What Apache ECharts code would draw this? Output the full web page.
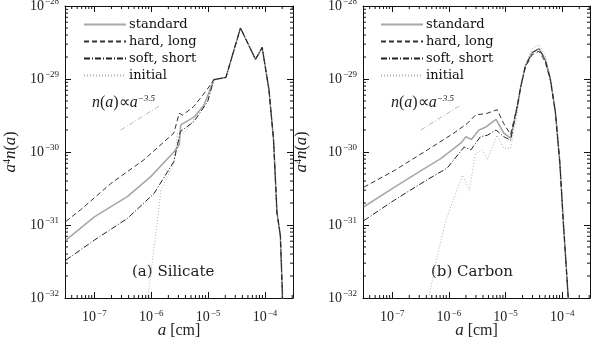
<!DOCTYPE html>
<html>
<head>
<meta charset="utf-8">
<script src="https://cdn.jsdelivr.net/npm/echarts@6/dist/echarts.min.js"></script>
<style>
  html, body { margin: 0; padding: 0; background: #fff; }
  #chart { width: 592px; height: 340px; }
</style>
</head>
<body>
<div id="chart"></div>
<script>
// grain size a [cm] vs a^4 n(a)
const seriesNames = ['standard', 'hard, long', 'soft, short', 'initial'];
const panelLabels = ['(a) Silicate', '(b) Carbon'];

// silicate, small-grain part of each curve
const siStd = [[3.16e-8, 6.2e-32], [1.0e-7, 1.29e-31], [3.8e-7, 2.45e-31], [9.8e-7, 4.6e-31],
  [2.5e-6, 1.0e-30], [3.1e-6, 1.26e-30], [3.3e-6, 2.35e-30], [5.6e-6, 3.0e-30], [8.5e-6, 4.4e-30]];
const siHard = [[3.16e-8, 1.12e-31], [5.75e-8, 1.62e-31], [1.95e-7, 3.7e-31], [7.4e-7, 7.8e-31],
  [2.5e-6, 1.82e-30], [3.1e-6, 3.4e-30], [3.55e-6, 3.2e-30], [5.6e-6, 4.2e-30], [9.5e-6, 7.1e-30]];
const siSoft = [[3.16e-8, 3.3e-32], [1.0e-7, 6.2e-32], [3.8e-7, 1.23e-31], [1.12e-6, 2.7e-31],
  [2.5e-6, 7.4e-31], [3.24e-6, 1.9e-30], [5.6e-6, 2.6e-30], [9.8e-6, 4.9e-30]];
const siInit = [[8.5e-7, 9e-33], [1.05e-6, 3.3e-32], [1.29e-6, 1.17e-31], [1.48e-6, 3.0e-31],
  [2.5e-6, 7.1e-31], [2.9e-6, 1.82e-30], [3.8e-6, 1.82e-30], [7.4e-6, 3.8e-30], [1.1e-5, 6.8e-30]];
// silicate, common large-grain part
const siTail = [[1.26e-5, 9.8e-30], [2.05e-5, 1.05e-29], [3.7e-5, 5.0e-29], [6.8e-5, 1.86e-29],
  [8.9e-5, 2.7e-29], [1.17e-4, 7.2e-30], [1.41e-4, 1.48e-30], [1.62e-4, 1.48e-31],
  [1.86e-4, 7.1e-32], [2.04e-4, 9e-33]];

// carbon
const cbStd = [[3.16e-8, 1.78e-31], [1.1e-7, 3.3e-31], [4.2e-7, 6.3e-31], [7.2e-7, 8.1e-31],
  [1.62e-6, 1.32e-30], [2.0e-6, 1.62e-30], [2.5e-6, 1.48e-30], [3.4e-6, 2.0e-30],
  [4.5e-6, 2.2e-30], [6.8e-6, 2.8e-30], [9.3e-6, 1.82e-30], [1.23e-5, 1.55e-30]];
const cbHard = [[3.16e-8, 3.3e-31], [1.1e-7, 5.6e-31], [4.2e-7, 1.07e-30], [1.23e-6, 1.82e-30],
  [2.1e-6, 2.45e-30], [2.95e-6, 3.2e-30], [4.8e-6, 3.4e-30], [7.1e-6, 3.8e-30],
  [9.3e-6, 2.45e-30], [1.23e-5, 1.74e-30]];
const cbSoft = [[3.16e-8, 1.15e-31], [1.1e-7, 2.2e-31], [4.2e-7, 4.2e-31], [9.3e-7, 6.0e-31],
  [1.86e-6, 1.17e-30], [2.45e-6, 1.07e-30], [3.6e-6, 1.62e-30], [4.8e-6, 1.7e-30],
  [6.8e-6, 2.0e-30], [9.3e-6, 1.62e-30], [1.23e-5, 1.45e-30]];
const cbInit = [[4.3e-7, 9e-33], [6.0e-7, 3.3e-32], [8.9e-7, 1.17e-31], [1.17e-6, 2.1e-31],
  [1.74e-6, 4.8e-31], [2.3e-6, 3.0e-31], [2.95e-6, 9.5e-31], [3.9e-6, 1.07e-30],
  [4.8e-6, 7.8e-31], [7.1e-6, 1.7e-30], [9.3e-6, 1.12e-30], [1.23e-5, 1.12e-30]];
const cbTail = [[1.62e-5, 4.3e-30], [1.86e-5, 7.9e-30], [2.24e-5, 1.51e-29], [2.95e-5, 2.3e-29],
  [3.9e-5, 2.6e-29], [5.0e-5, 1.86e-29], [6.2e-5, 1.0e-29], [7.6e-5, 3.5e-30], [9.1e-5, 7.1e-31],
  [1.05e-4, 1.07e-31], [1.2e-4, 2.2e-32], [1.29e-4, 9e-33]];
const cbTailHard = [[1.62e-5, 4.3e-30], [1.86e-5, 7.9e-30], [2.24e-5, 1.45e-29], [2.95e-5, 2.15e-29],
  [3.9e-5, 2.4e-29], [5.0e-5, 1.74e-29], [6.2e-5, 9.5e-30], [7.6e-5, 3.5e-30], [9.1e-5, 7.1e-31],
  [1.05e-4, 1.07e-31], [1.2e-4, 2.2e-32], [1.29e-4, 9e-33]];
const cbTailInit = [[1.62e-5, 3.4e-30], [1.86e-5, 7.6e-30], [2.24e-5, 1.58e-29], [2.95e-5, 2.6e-29],
  [3.9e-5, 2.95e-29], [5.0e-5, 2.1e-29], [6.2e-5, 1.05e-29], [7.6e-5, 3.6e-30], [9.1e-5, 7.1e-31],
  [1.05e-4, 1.07e-31], [1.2e-4, 2.2e-32], [1.29e-4, 9e-33]];

// n(a) ∝ a^-3.5 guide segments
const guideSi = [[2.92e-7, 2.0e-30], [1.47e-6, 4.4e-30]];
const guideCb = [[3.2e-7, 2.0e-30], [1.62e-6, 4.4e-30]];

// the y values are tiny, so the axis works in units of 1e-32 to keep the log scale from rounding to 0
const yUnitExp = -32;
const yUnit = 1e32;
function toUnits(arr) {
  return arr.map(function (p) { return [p[0], p[1] * yUnit]; });
}

const xMin = 3.05e-8, xMax = 3.1e-4;
const yMin = 1, yMax = 1e4;

const myChart = echarts.init(document.getElementById('chart'));

const styles = [
  { color: '#a8a8a8', width: 1.6, type: 'solid' },
  { color: '#333', width: 1, type: [5, 3] },
  { color: '#222', width: 1, type: [6, 2, 1, 2] },
  { color: '#b0b0b0', width: 1, type: [1, 2] }
];

function powLabel(v, shift) {
  const e = Math.log10(v);
  if (!isFinite(e) || Math.abs(e - Math.round(e)) > 0.01) return '';
  return '{b|10}{s|' + String(Math.round(e) + shift).replace('-', '−') + '}';
}

const labelRich = {
  b: { fontFamily: 'Liberation Serif', fontSize: 14, color: '#222' },
  s: { fontFamily: 'Liberation Serif', fontSize: 9, color: '#222', verticalAlign: 'top', padding: [0, 0, 8, 1] }
};

function xAxisFor(grid, bottom, name) {
  return {
    type: 'log', gridIndex: grid, position: bottom ? 'bottom' : 'top',
    min: xMin, max: xMax,
    axisLine: { show: true, onZero: false, lineStyle: { color: '#111', width: 1 } },
    axisTick: { show: true, inside: true, length: 6, lineStyle: { color: '#111' } },
    splitLine: { show: false },
    axisLabel: bottom ? { show: true, margin: 11, formatter: function (v) { return powLabel(v, 0); }, rich: labelRich } : { show: false },
    name: bottom ? name : '', nameLocation: 'middle', nameGap: 24, nameMoveOverlap: false,
    nameTextStyle: {
      fontFamily: 'Liberation Serif', fontSize: 16, color: '#222',
      rich: { i: { fontFamily: 'Liberation Serif', fontStyle: 'italic', fontSize: 17, color: '#222' } }
    }
  };
}

function yAxisFor(grid, left, name, gap) {
  return {
    type: 'log', gridIndex: grid, position: left ? 'left' : 'right',
    min: yMin, max: yMax,
    axisLine: { show: true, onZero: false, lineStyle: { color: '#111', width: 1 } },
    axisTick: { show: true, inside: true, length: 6, lineStyle: { color: '#111' } },
    splitLine: { show: false },
    axisLabel: left ? { show: true, margin: 6, formatter: function (v) { return powLabel(v, yUnitExp); }, rich: labelRich } : { show: false },
    name: left ? name : '', nameLocation: 'middle', nameGap: gap, nameRotate: 90,
    nameTextStyle: {
      fontFamily: 'Liberation Serif', fontSize: 16, color: '#222',
      rich: {
        i: { fontFamily: 'Liberation Serif', fontStyle: 'italic', fontSize: 17, color: '#222' },
        s: { fontFamily: 'Liberation Serif', fontSize: 10, color: '#222', verticalAlign: 'top', padding: [0, 0, 8, 0] }
      }
    }
  };
}

// minor log ticks on all four sides of a panel
const minorX = [], minorY = [];
for (let e = -8; e <= -4; e++) {
  for (let k = 2; k <= 9; k++) {
    const v = k * Math.pow(10, e);
    if (v > xMin && v < xMax) minorX.push(v);
  }
}
for (let e = 0; e <= 3; e++) {
  for (let k = 2; k <= 9; k++) minorY.push(k * Math.pow(10, e));
}

function minorTickSeries(grid) {
  return {
    type: 'custom', xAxisIndex: grid * 2, yAxisIndex: grid * 2, silent: true,
    clip: false, data: [[xMin, yMin]],
    renderItem: function (params, api) {
      const children = [];
      const st = { stroke: '#111', lineWidth: 1 };
      minorX.forEach(function (v) {
        const b = api.coord([v, yMin]), t = api.coord([v, yMax]);
        children.push({ type: 'line', shape: { x1: b[0], y1: b[1], x2: b[0], y2: b[1] - 3 }, style: st });
        children.push({ type: 'line', shape: { x1: t[0], y1: t[1], x2: t[0], y2: t[1] + 3 }, style: st });
      });
      minorY.forEach(function (v) {
        const l = api.coord([xMin, v]), r = api.coord([xMax, v]);
        children.push({ type: 'line', shape: { x1: l[0], y1: l[1], x2: l[0] + 3, y2: l[1] }, style: st });
        children.push({ type: 'line', shape: { x1: r[0], y1: r[1], x2: r[0] - 3, y2: r[1] }, style: st });
      });
      return { type: 'group', children: children };
    }
  };
}

function lineSeries(grid, idx, data) {
  return {
    type: 'line', name: seriesNames[idx], xAxisIndex: grid * 2, yAxisIndex: grid * 2,
    data: toUnits(data), showSymbol: false, symbol: 'none', smooth: false, clip: true,
    lineStyle: styles[idx], itemStyle: { color: styles[idx].color },
    z: idx === 0 ? 2 : (idx === 3 ? 1 : 3), animation: false
  };
}

function guideSeries(grid, data) {
  return {
    type: 'line', xAxisIndex: grid * 2, yAxisIndex: grid * 2, data: toUnits(data),
    symbol: 'none', silent: true, animation: false,
    lineStyle: { color: '#b8b8b8', width: 1, type: [5, 2, 1, 2] }
  };
}

const xName = '{i|a} [cm]';
const yName = '{i|a}{s|4}{i|n}({i|a})';

function legendFor(left) {
  return {
    left: left, top: 18, orient: 'vertical', padding: 0,
    itemWidth: 42, itemHeight: 12, itemGap: 4, selectedMode: false,
    data: seriesNames,
    itemStyle: { color: 'transparent', borderColor: 'transparent', borderWidth: 0, opacity: 0 },
    textStyle: { fontFamily: 'DejaVu Serif', fontSize: 13, color: '#111', padding: [0, 0, 0, -2] }
  };
}

function textItem(left, top, text, rich) {
  return {
    type: 'text', left: left, top: top,
    style: { text: text, rich: rich, fill: '#222', font: '15px "DejaVu Serif"' }
  };
}

const lawRich = {
  i: { fontFamily: 'Liberation Serif', fontStyle: 'italic', fontSize: 16, color: '#222' },
  r: { fontFamily: 'Liberation Serif', fontSize: 16, color: '#222' },
  s: { fontFamily: 'Liberation Serif', fontStyle: 'italic', fontSize: 9, color: '#222', verticalAlign: 'top', padding: [0, 0, 9, 0] }
};
const lawText = '{i|n}{r|(}{i|a}{r|)∝}{i|a}{s|−3.5}';

const option = {
  animation: false,
  grid: [
    { left: 65, right: 299, top: 6, bottom: 42, containLabel: false, outerBoundsMode: 'none' },
    { left: 363, right: 2, top: 6, bottom: 42, containLabel: false, outerBoundsMode: 'none' }
  ],
  xAxis: [xAxisFor(0, true, xName), xAxisFor(0, false), xAxisFor(1, true, xName), xAxisFor(1, false)],
  yAxis: [yAxisFor(0, true, yName, 45), yAxisFor(0, false), yAxisFor(1, true, yName, 52), yAxisFor(1, false)],
  legend: [legendFor(83), legendFor(380)],
  graphic: [
    textItem(92, 94, lawText, lawRich),
    textItem(391, 94, lawText, lawRich),
    textItem(132, 265, panelLabels[0]),
    textItem(431, 265, panelLabels[1])
  ],
  series: [
    guideSeries(0, guideSi),
    lineSeries(0, 3, siInit.concat(siTail)),
    lineSeries(0, 0, siStd.concat(siTail)),
    lineSeries(0, 1, siHard.concat(siTail)),
    lineSeries(0, 2, siSoft.concat(siTail)),
    minorTickSeries(0),
    guideSeries(1, guideCb),
    lineSeries(1, 3, cbInit.concat(cbTailInit)),
    lineSeries(1, 0, cbStd.concat(cbTail)),
    lineSeries(1, 1, cbHard.concat(cbTailHard)),
    lineSeries(1, 2, cbSoft.concat(cbTail)),
    minorTickSeries(1)
  ]
};

myChart.setOption(option);
window.addEventListener('resize', myChart.resize);
</script>
</body>
</html>
